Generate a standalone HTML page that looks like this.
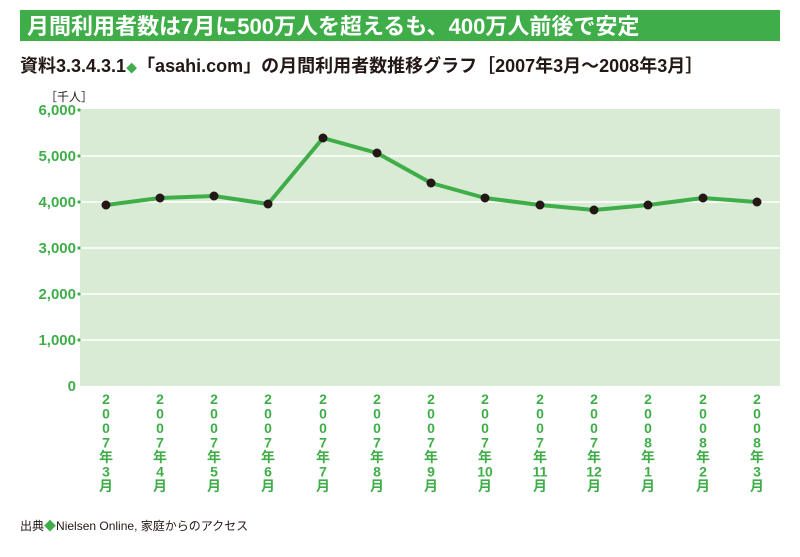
<!DOCTYPE html>
<html><head><meta charset="utf-8"><style>
body{margin:0;background:#fff;width:800px;height:557px;overflow:hidden}
svg{display:block}
text{font-family:"Liberation Sans","Noto Sans CJK JP",sans-serif}
</style></head><body>
<svg width="800" height="557" viewBox="0 0 800 557" xmlns="http://www.w3.org/2000/svg">
<rect x="20" y="10" width="760" height="31" fill="#3fae49"/>
<text x="27" y="34" font-size="22" font-weight="bold" fill="#fff">月間利用者数は7月に500万人を超えるも、400万人前後で安定</text>
<text x="20" y="72" font-size="18" font-weight="bold" fill="#231815">資料3.3.4.3.1<tspan fill="#3fae49" font-size="11">◆</tspan>「asahi.com」の月間利用者数推移グラフ［2007年3月～2008年3月］</text>
<text x="45" y="101" font-size="12" fill="#231815">［千人］</text>
<rect x="80" y="109" width="700" height="277" fill="#d9ead5"/>
<g stroke="#fff" stroke-width="1.5">
<line x1="80" y1="156" x2="780" y2="156"/><line x1="80" y1="202" x2="780" y2="202"/><line x1="80" y1="248" x2="780" y2="248"/><line x1="80" y1="294" x2="780" y2="294"/><line x1="80" y1="340" x2="780" y2="340"/>
</g>
<g font-size="15" font-weight="bold" fill="#3fae49" text-anchor="end">
<text x="76" y="115">6,000</text><text x="76" y="161">5,000</text><text x="76" y="207">4,000</text><text x="76" y="253">3,000</text><text x="76" y="299">2,000</text><text x="76" y="345">1,000</text><text x="76" y="391">0</text>
</g>
<g fill="#3fae49"><circle cx="79" cy="110" r="1.6"/><circle cx="79" cy="156" r="1.6"/><circle cx="79" cy="202" r="1.6"/><circle cx="79" cy="248" r="1.6"/><circle cx="79" cy="294" r="1.6"/><circle cx="79" cy="340" r="1.6"/></g>
<polyline fill="none" stroke="#3fae49" stroke-width="4" stroke-linejoin="round" points="106,205 160,198 214,196 268,204 323,138 377,153 431,183 485,198 540,205 594,210 648,205 703,198 757,202"/>
<g fill="#231815">
<circle cx="106" cy="205" r="4.5"/><circle cx="160" cy="198" r="4.5"/><circle cx="214" cy="196" r="4.5"/><circle cx="268" cy="204" r="4.5"/><circle cx="323" cy="138" r="4.5"/><circle cx="377" cy="153" r="4.5"/><circle cx="431" cy="183" r="4.5"/><circle cx="485" cy="198" r="4.5"/><circle cx="540" cy="205" r="4.5"/><circle cx="594" cy="210" r="4.5"/><circle cx="648" cy="205" r="4.5"/><circle cx="703" cy="198" r="4.5"/><circle cx="757" cy="202" r="4.5"/>
</g>
<g font-size="14" font-weight="bold" fill="#3fae49" text-anchor="middle">
<text x="106" y="404"><tspan x="106">2</tspan><tspan x="106" dy="14.5">0</tspan><tspan x="106" dy="14.5">0</tspan><tspan x="106" dy="14.5">7</tspan><tspan x="106" dy="14.5">年</tspan><tspan x="106" dy="14.5">3</tspan><tspan x="106" dy="14.5">月</tspan></text>
<text x="160" y="404"><tspan x="160">2</tspan><tspan x="160" dy="14.5">0</tspan><tspan x="160" dy="14.5">0</tspan><tspan x="160" dy="14.5">7</tspan><tspan x="160" dy="14.5">年</tspan><tspan x="160" dy="14.5">4</tspan><tspan x="160" dy="14.5">月</tspan></text>
<text x="214" y="404"><tspan x="214">2</tspan><tspan x="214" dy="14.5">0</tspan><tspan x="214" dy="14.5">0</tspan><tspan x="214" dy="14.5">7</tspan><tspan x="214" dy="14.5">年</tspan><tspan x="214" dy="14.5">5</tspan><tspan x="214" dy="14.5">月</tspan></text>
<text x="268" y="404"><tspan x="268">2</tspan><tspan x="268" dy="14.5">0</tspan><tspan x="268" dy="14.5">0</tspan><tspan x="268" dy="14.5">7</tspan><tspan x="268" dy="14.5">年</tspan><tspan x="268" dy="14.5">6</tspan><tspan x="268" dy="14.5">月</tspan></text>
<text x="323" y="404"><tspan x="323">2</tspan><tspan x="323" dy="14.5">0</tspan><tspan x="323" dy="14.5">0</tspan><tspan x="323" dy="14.5">7</tspan><tspan x="323" dy="14.5">年</tspan><tspan x="323" dy="14.5">7</tspan><tspan x="323" dy="14.5">月</tspan></text>
<text x="377" y="404"><tspan x="377">2</tspan><tspan x="377" dy="14.5">0</tspan><tspan x="377" dy="14.5">0</tspan><tspan x="377" dy="14.5">7</tspan><tspan x="377" dy="14.5">年</tspan><tspan x="377" dy="14.5">8</tspan><tspan x="377" dy="14.5">月</tspan></text>
<text x="431" y="404"><tspan x="431">2</tspan><tspan x="431" dy="14.5">0</tspan><tspan x="431" dy="14.5">0</tspan><tspan x="431" dy="14.5">7</tspan><tspan x="431" dy="14.5">年</tspan><tspan x="431" dy="14.5">9</tspan><tspan x="431" dy="14.5">月</tspan></text>
<text x="485" y="404"><tspan x="485">2</tspan><tspan x="485" dy="14.5">0</tspan><tspan x="485" dy="14.5">0</tspan><tspan x="485" dy="14.5">7</tspan><tspan x="485" dy="14.5">年</tspan><tspan x="485" dy="14.5">10</tspan><tspan x="485" dy="14.5">月</tspan></text>
<text x="540" y="404"><tspan x="540">2</tspan><tspan x="540" dy="14.5">0</tspan><tspan x="540" dy="14.5">0</tspan><tspan x="540" dy="14.5">7</tspan><tspan x="540" dy="14.5">年</tspan><tspan x="540" dy="14.5">11</tspan><tspan x="540" dy="14.5">月</tspan></text>
<text x="594" y="404"><tspan x="594">2</tspan><tspan x="594" dy="14.5">0</tspan><tspan x="594" dy="14.5">0</tspan><tspan x="594" dy="14.5">7</tspan><tspan x="594" dy="14.5">年</tspan><tspan x="594" dy="14.5">12</tspan><tspan x="594" dy="14.5">月</tspan></text>
<text x="648" y="404"><tspan x="648">2</tspan><tspan x="648" dy="14.5">0</tspan><tspan x="648" dy="14.5">0</tspan><tspan x="648" dy="14.5">8</tspan><tspan x="648" dy="14.5">年</tspan><tspan x="648" dy="14.5">1</tspan><tspan x="648" dy="14.5">月</tspan></text>
<text x="703" y="404"><tspan x="703">2</tspan><tspan x="703" dy="14.5">0</tspan><tspan x="703" dy="14.5">0</tspan><tspan x="703" dy="14.5">8</tspan><tspan x="703" dy="14.5">年</tspan><tspan x="703" dy="14.5">2</tspan><tspan x="703" dy="14.5">月</tspan></text>
<text x="757" y="404"><tspan x="757">2</tspan><tspan x="757" dy="14.5">0</tspan><tspan x="757" dy="14.5">0</tspan><tspan x="757" dy="14.5">8</tspan><tspan x="757" dy="14.5">年</tspan><tspan x="757" dy="14.5">3</tspan><tspan x="757" dy="14.5">月</tspan></text>
</g>
<text x="20" y="530" font-size="12" fill="#231815">出典<tspan fill="#3fae49">◆</tspan>Nielsen Online, 家庭からのアクセス</text>
</svg>
</body></html>
